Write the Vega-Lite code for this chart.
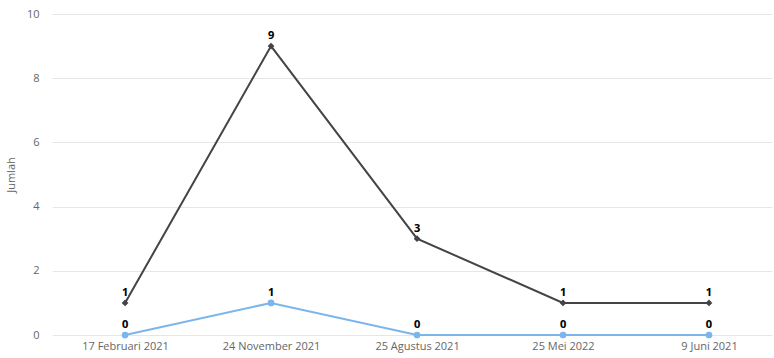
{
  "$schema": "https://vega.github.io/schema/vega-lite/v6.json",
  "width": 720,
  "height": 321,
  "autosize": {"type": "none"},
  "padding": {"left": 52, "top": 14, "right": 2, "bottom": 23},
  "background": "white",
  "config": {
    "view": {"stroke": null},
    "font": "Open Sans"
  },
  "data": {
    "values": [
      {"tanggal": "17 Februari 2021", "seri": "A", "jumlah": 0},
      {"tanggal": "24 November 2021", "seri": "A", "jumlah": 1},
      {"tanggal": "25 Agustus 2021", "seri": "A", "jumlah": 0},
      {"tanggal": "25 Mei 2022", "seri": "A", "jumlah": 0},
      {"tanggal": "9 Juni 2021", "seri": "A", "jumlah": 0},
      {"tanggal": "17 Februari 2021", "seri": "B", "jumlah": 1},
      {"tanggal": "24 November 2021", "seri": "B", "jumlah": 9},
      {"tanggal": "25 Agustus 2021", "seri": "B", "jumlah": 3},
      {"tanggal": "25 Mei 2022", "seri": "B", "jumlah": 1},
      {"tanggal": "9 Juni 2021", "seri": "B", "jumlah": 1}
    ]
  },
  "encoding": {
    "x": {
      "field": "tanggal",
      "type": "ordinal",
      "sort": ["17 Februari 2021", "24 November 2021", "25 Agustus 2021", "25 Mei 2022", "9 Juni 2021"],
      "scale": {"type": "point", "padding": 0.466, "align": 0.537},
      "axis": {
        "title": null,
        "labelAngle": 0,
        "labelFontSize": 11,
        "labelColor": "#666666",
        "labelPadding": 5,
        "ticks": false,
        "domain": false,
        "grid": false
      }
    },
    "y": {
      "field": "jumlah",
      "type": "quantitative",
      "scale": {"domain": [0, 10]},
      "axis": {
        "title": "Jumlah",
        "titleFontSize": 11,
        "titleFontWeight": "normal",
        "titleColor": "#666666",
        "titlePadding": 10,
        "values": [0, 2, 4, 6, 8, 10],
        "labelFontSize": 11,
        "labelColor": "#666666",
        "labelPadding": 13,
        "ticks": false,
        "domain": false,
        "gridColor": "#e6e6e6",
        "gridWidth": 1
      }
    }
  },
  "layer": [
    {
      "mark": {"type": "line", "strokeWidth": 2},
      "encoding": {
        "color": {
          "field": "seri",
          "type": "nominal",
          "scale": {"domain": ["A", "B"], "range": ["#7cb5ec", "#434348"]},
          "legend": null
        }
      }
    },
    {
      "mark": {"type": "point", "filled": true, "opacity": 1},
      "encoding": {
        "color": {
          "field": "seri",
          "type": "nominal",
          "scale": {"domain": ["A", "B"], "range": ["#7cb5ec", "#434348"]},
          "legend": null
        },
        "shape": {
          "field": "seri",
          "type": "nominal",
          "scale": {"domain": ["A", "B"], "range": ["circle", "diamond"]},
          "legend": null
        },
        "size": {"value": 45}
      }
    },
    {
      "mark": {"type": "text", "baseline": "bottom", "dy": -5, "fontSize": 11, "fontWeight": "bold", "color": "#000000", "stroke": "white", "strokeWidth": 2, "strokeOpacity": 0.8},
      "encoding": {
        "text": {"field": "jumlah", "type": "quantitative"}
      }
    },
    {
      "mark": {"type": "text", "baseline": "bottom", "dy": -5, "fontSize": 11, "fontWeight": "bold", "color": "#000000"},
      "encoding": {
        "text": {"field": "jumlah", "type": "quantitative"}
      }
    }
  ]
}
